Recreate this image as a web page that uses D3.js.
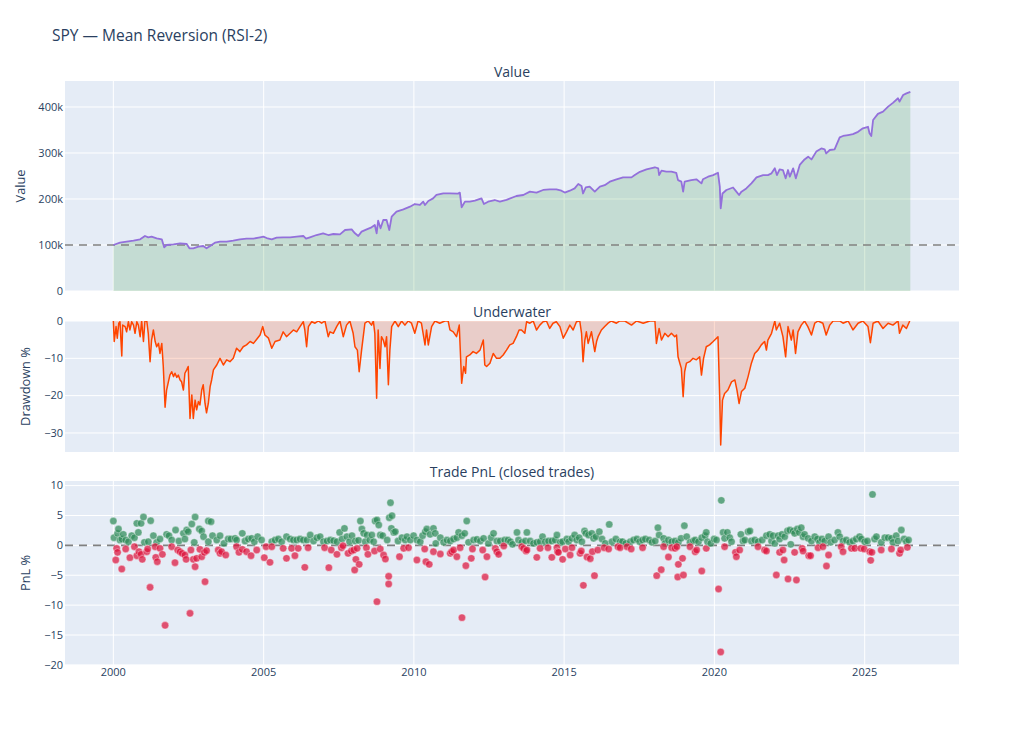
<!DOCTYPE html>
<html><head><meta charset="utf-8">
<script src="https://cdn.jsdelivr.net/npm/d3@7"></script>
<style>
html,body{margin:0;padding:0;background:#fff;}
svg{display:block;font-family:"Open Sans",verdana,arial,sans-serif;}
</style></head>
<body><svg id="c" width="1024" height="730"></svg>
<script>
// ---------------- DATA ----------------
const chartTitle = "SPY — Mean Reversion (RSI-2)";
const panelTitles = ["Value", "Underwater", "Trade PnL (closed trades)"];
const axisTitles = ["Value", "Drawdown %", "PnL %"];
const xTickYears = [2000, 2005, 2010, 2015, 2020, 2025];
const valueTicks = [0, 100000, 200000, 300000, 400000];
const ddTicks = [0, -10, -20, -30];
const pnlTicks = [10, 5, 0, -5, -10, -15, -20];
const startCapital = 100000;

// equity curve: [decimal year, value in thousands]
const equity = [
[2000.00,100],[2000.22,105.1],[2000.44,107.2],[2000.67,109.4],[2000.89,112.3],[2001.05,119.6],[2001.16,116.7],
[2001.27,118.1],[2001.44,114.5],[2001.61,112.3],[2001.69,94.9],[2001.77,100],[2002.00,101.4],[2002.22,103.6],
[2002.44,102.2],[2002.53,92.8],[2002.66,92.8],[2002.83,96.4],[2002.99,97.8],[2003.10,92.8],[2003.22,97.8],
[2003.38,105.1],[2003.55,107.2],[2003.77,107.2],[2003.99,109.4],[2004.21,112.3],[2004.43,113.8],[2004.66,113.8],
[2004.88,116.7],[2004.99,118.1],[2005.10,115.2],[2005.27,112.3],[2005.43,116],[2005.65,116.7],[2005.88,116.7],
[2006.10,118.1],[2006.32,119.6],[2006.41,113.8],[2006.54,116.7],[2006.76,121.7],[2006.98,125.4],[2007.15,121.7],
[2007.32,123.9],[2007.54,123.2],[2007.71,132.6],[2007.93,134.1],[2008.04,125.4],[2008.15,119.6],[2008.26,129],
[2008.43,134.1],[2008.59,138.4],[2008.70,143.5],[2008.76,125.4],[2008.81,152.9],[2008.89,136.2],[2008.98,154.3],
[2009.09,154.3],[2009.18,132.6],[2009.26,161.6],[2009.42,172.5],[2009.65,177.5],[2009.87,183.3],[2010.03,189.1],
[2010.20,187],[2010.31,194.2],[2010.37,187],[2010.48,195.7],[2010.64,201.4],[2010.75,208.7],[2010.98,212.3],
[2011.20,212.3],[2011.47,211.6],[2011.53,213.8],[2011.59,181.9],[2011.70,194.2],[2011.86,194.2],[2012.03,196.4],
[2012.25,201.4],[2012.33,189.1],[2012.47,194.2],[2012.69,197.8],[2012.86,194.2],[2013.08,198],[2013.41,206.5],
[2013.64,208.7],[2013.86,216],[2014.08,214],[2014.30,219.6],[2014.52,221],[2014.74,221],[2014.91,218],[2015.02,214],
[2015.19,218],[2015.35,223],[2015.47,232.6],[2015.58,228],[2015.63,212],[2015.72,225],[2015.85,227],[2016.02,216],
[2016.19,227],[2016.35,230],[2016.52,237.7],[2016.74,242.8],[2016.96,247],[2017.24,247],[2017.35,252],[2017.52,259],
[2017.74,264.5],[2018.02,269],[2018.13,266.7],[2018.16,252],[2018.24,261.6],[2018.40,259.4],[2018.57,259.4],
[2018.73,257],[2018.79,241],[2018.90,237.7],[2018.96,216],[2019.01,237.7],[2019.23,241],[2019.40,242.8],[2019.57,234],
[2019.62,242.8],[2019.79,248.5],[2019.96,252],[2020.12,257],[2020.18,226.8],[2020.21,179.7],[2020.27,212],
[2020.40,219.6],[2020.62,225],[2020.73,216],[2020.82,208.7],[2020.90,216],[2021.06,223],[2021.23,234],[2021.40,247],
[2021.62,252],[2021.78,252],[2021.90,255.8],[2022.01,266.7],[2022.08,252],[2022.17,264.5],[2022.28,263],[2022.37,245],
[2022.45,263],[2022.51,248.5],[2022.62,266.7],[2022.71,245],[2022.84,274],[2023.00,286],[2023.12,292],[2023.23,286],
[2023.39,303],[2023.56,310],[2023.67,308],[2023.72,299],[2023.84,306.5],[2024.00,308],[2024.17,334],[2024.28,337],
[2024.45,339],[2024.61,341],[2024.78,346],[2024.94,353.6],[2025.11,357],[2025.16,343],[2025.22,337],[2025.28,371.7],
[2025.44,385],[2025.61,390],[2025.78,400.7],[2025.94,409],[2026.11,419],[2026.16,411.6],[2026.28,426],[2026.39,429.7],
[2026.52,433]
];

// drawdown: [decimal year, drawdown %]
const drawdown = [
[2000.00,0],[2000.03,-5.5],[2000.09,-1.5],[2000.13,-4.6],[2000.18,-0.6],[2000.22,-0.2],[2000.28,-9.4],[2000.31,-1.1],
[2000.39,-1.5],[2000.44,-2.9],[2000.50,-0.2],[2000.55,-2.4],[2000.61,-0.2],[2000.67,-1.1],[2000.72,-3.3],[2000.78,-0.2],
[2000.83,-1.1],[2000.89,-4.2],[2000.94,0],[2001.00,-5.5],[2001.05,0],[2001.11,0],[2001.16,-3.3],[2001.22,-10.9],
[2001.27,-5.1],[2001.33,-2.4],[2001.39,-5.5],[2001.44,-6.9],[2001.50,-6.0],[2001.55,-8.7],[2001.61,-6.0],[2001.66,-12.2],
[2001.72,-23.1],[2001.77,-18.5],[2001.83,-16.3],[2001.88,-14.5],[2001.94,-13.6],[2002.00,-14.9],[2002.05,-14.0],
[2002.11,-15.1],[2002.16,-14.5],[2002.22,-15.8],[2002.27,-16.3],[2002.33,-18.5],[2002.38,-14.0],[2002.44,-13.1],
[2002.49,-12.2],[2002.55,-26.1],[2002.61,-19.8],[2002.66,-26.1],[2002.72,-21.2],[2002.77,-23.8],[2002.83,-21.6],
[2002.88,-22.5],[2002.94,-18.5],[2002.99,-17.1],[2003.05,-22.1],[2003.10,-24.6],[2003.16,-22.1],[2003.22,-17.6],
[2003.27,-15.8],[2003.33,-13.1],[2003.44,-11.8],[2003.55,-10.0],[2003.66,-11.8],[2003.77,-10.4],[2003.88,-10.9],
[2003.99,-10.0],[2004.10,-7.3],[2004.21,-8.2],[2004.32,-6.9],[2004.43,-6.4],[2004.55,-5.5],[2004.66,-6.0],[2004.77,-4.9],
[2004.88,-3.75],[2004.97,-1.5],[2005.04,-3.75],[2005.16,-4.6],[2005.27,-7.3],[2005.38,-5.5],[2005.54,-5.1],[2005.65,-2.9],
[2005.76,-4.2],[2005.88,-3.3],[2005.99,-2.4],[2006.10,-2.9],[2006.21,-1.5],[2006.32,-0.2],[2006.37,-2.4],[2006.43,-6.9],
[2006.49,-1.5],[2006.60,-0.2],[2006.71,-0.6],[2006.82,0],[2006.93,-0.6],[2007.04,0],[2007.15,-4.2],[2007.21,-2.9],
[2007.32,-3.3],[2007.43,-1.5],[2007.54,0],[2007.65,-4.2],[2007.76,-1.1],[2007.87,0],[2007.98,-3.3],[2008.04,-6.9],
[2008.12,-7.8],[2008.18,-13.6],[2008.26,-7.8],[2008.37,-0.6],[2008.48,0],[2008.59,-1.1],[2008.65,0],[2008.70,-3.3],
[2008.76,-20.7],[2008.81,-2.4],[2008.87,-12.7],[2008.92,-4.2],[2008.98,-5.1],[2009.04,-6.9],[2009.09,-4.2],[2009.15,-17.1],
[2009.20,-7.8],[2009.26,-1.5],[2009.37,0],[2009.48,-1.5],[2009.59,0],[2009.70,-1.1],[2009.81,0],[2009.92,-0.6],
[2010.03,-3.3],[2010.14,0],[2010.25,-0.6],[2010.37,-6.4],[2010.42,-2.4],[2010.48,-6.4],[2010.59,-1.5],[2010.70,0],
[2010.86,-0.6],[2011.03,0],[2011.14,0],[2011.20,-2.4],[2011.31,-2.9],[2011.42,-4.2],[2011.51,-1.1],[2011.59,-16.7],
[2011.66,-12.2],[2011.72,-14.0],[2011.75,-9.6],[2011.86,-9.1],[2011.97,-8.2],[2012.08,-8.7],[2012.20,-7.8],[2012.31,-5.1],
[2012.36,-11.8],[2012.42,-12.2],[2012.53,-11.3],[2012.64,-8.7],[2012.75,-10.0],[2012.86,-10.0],[2012.97,-9.1],
[2013.08,-7.8],[2013.19,-6.4],[2013.30,-6.0],[2013.41,-4.2],[2013.50,-2.4],[2013.58,-2.4],[2013.69,-3.3],[2013.75,-0.2],
[2013.86,-0.6],[2013.97,0],[2014.08,-2.4],[2014.19,-1.1],[2014.30,-0.2],[2014.41,0],[2014.52,-2.0],[2014.63,-0.6],
[2014.74,-0.2],[2014.86,-1.5],[2014.97,-4.6],[2015.08,-2.9],[2015.19,-1.1],[2015.30,-2.4],[2015.41,-0.2],[2015.52,0],
[2015.58,-3.3],[2015.63,-10.9],[2015.69,-5.1],[2015.74,-2.9],[2015.80,-6.0],[2015.91,-2.9],[2016.02,-8.2],[2016.08,-5.5],
[2016.13,-4.2],[2016.24,-2.4],[2016.35,-1.5],[2016.46,-0.6],[2016.57,0],[2016.74,-0.6],[2016.85,0],[2017.02,0],
[2017.24,-1.1],[2017.41,0],[2017.63,-0.6],[2017.85,0],[2018.02,0],[2018.07,-6.0],[2018.16,-2.0],[2018.24,-5.1],
[2018.35,-3.3],[2018.46,-4.2],[2018.57,-3.3],[2018.68,-4.2],[2018.74,-3.75],[2018.79,-9.6],[2018.85,-11.3],
[2018.90,-12.7],[2018.96,-20.3],[2019.01,-13.6],[2019.07,-11.3],[2019.18,-10.9],[2019.29,-10.0],[2019.40,-10.4],
[2019.51,-9.6],[2019.57,-14.5],[2019.64,-10.0],[2019.73,-6.9],[2019.84,-6.4],[2019.96,-5.5],[2020.07,-4.6],
[2020.12,-4.2],[2020.18,-21.2],[2020.21,-33.2],[2020.27,-21.2],[2020.34,-19.4],[2020.45,-18.5],[2020.57,-16.3],
[2020.68,-15.8],[2020.75,-18.5],[2020.82,-22.1],[2020.90,-18.9],[2021.01,-18.0],[2021.12,-14.9],[2021.23,-11.3],
[2021.34,-8.7],[2021.45,-7.8],[2021.56,-6.4],[2021.67,-5.5],[2021.73,-7.8],[2021.78,-5.1],[2021.90,-3.3],[2022.01,0],
[2022.06,-2.4],[2022.17,-0.6],[2022.28,-4.2],[2022.37,-9.6],[2022.45,-1.5],[2022.56,-5.1],[2022.62,-2.4],[2022.70,-8.7],
[2022.78,-2.9],[2022.89,-1.1],[2023.00,0],[2023.11,-1.5],[2023.23,-3.75],[2023.34,-0.6],[2023.45,0],[2023.61,-0.6],
[2023.72,-3.75],[2023.84,-1.1],[2023.95,0],[2024.17,0],[2024.28,-0.6],[2024.45,0],[2024.61,-2.4],[2024.78,-0.6],
[2024.94,0],[2025.11,-1.5],[2025.19,-5.8],[2025.28,-0.6],[2025.44,0],[2025.61,-2.0],[2025.78,-0.6],[2025.94,-1.1],
[2026.11,0],[2026.16,-3.3],[2026.27,-1.1],[2026.39,-2.0],[2026.50,0]
];

// closed trades: [exit date as decimal year, PnL %]
const trades = [
[2000.00,4.07],[2000.02,1.28],[2000.14,2.01],[2000.17,2.73],[2000.22,0.89],[2000.28,1.06],[2000.33,1.84],[2000.41,0.89],
[2000.50,0.61],[2000.61,1.62],[2000.70,1.28],[2000.78,3.68],[2000.83,2.17],[2000.92,3.68],[2001.00,4.74],[2001.03,0.5],
[2001.16,0.61],[2001.24,4.12],[2001.33,1.62],[2001.44,0.5],[2001.55,1.06],[2001.77,1.84],[2001.85,1.62],[2001.94,0.89],
[2002.07,2.56],[2002.18,0.72],[2002.33,2.01],[2002.38,1.06],[2002.44,2.56],[2002.49,2.29],[2002.61,3.57],[2002.69,0.5],
[2002.72,4.74],[2002.86,2.73],[2002.94,2.4],[2003.00,1.45],[2003.16,0.61],[2003.16,4.07],[2003.25,3.96],[2003.30,1.62],
[2003.44,0.89],[2003.55,1.62],[2003.68,0.33],[2003.82,1.06],[2003.91,1.06],[2004.05,1.17],[2004.10,0.89],[2004.29,2.01],
[2004.38,0.72],[2004.49,1.06],[2004.60,1.17],[2004.69,0.61],[2004.80,1.45],[2004.93,0.89],[2005.27,0.61],[2005.38,0.89],
[2005.49,1.06],[2005.60,0.61],[2005.76,1.45],[2005.88,1.06],[2005.99,0.89],[2006.10,0.89],[2006.21,1.06],[2006.32,0.89],
[2000.08,-2.45],[2000.11,-0.5],[2000.14,-1.17],[2000.28,-3.96],[2000.41,-0.61],[2000.55,-2.06],[2000.70,-0.22],
[2000.78,-1.73],[2000.85,-1.06],[2000.92,-1.5],[2000.96,-2.34],[2001.11,-1.06],[2001.14,-0.61],[2001.22,-7.02],
[2001.39,-0.22],[2001.41,-2.01],[2001.46,-2.73],[2001.55,-0.5],[2001.63,-1.5],[2001.72,-13.38],[2001.94,-0.22],
[2002.05,-2.9],[2002.14,-0.78],[2002.22,-1.06],[2002.29,-1.34],[2002.38,-1.62],[2002.42,-2.34],[2002.55,-11.37],
[2002.58,-0.78],[2002.66,-2.34],[2002.72,-3.57],[2002.77,-2.17],[2002.88,-0.67],[2002.94,-1.9],[2003.03,-1.17],
[2003.05,-6.08],[2003.10,-0.89],[2003.49,-0.78],[2003.55,-1.34],[2003.60,-1.06],[2003.74,-1.62],[2004.10,-0.22],
[2004.18,-1.17],[2004.29,-0.67],[2004.43,-1.06],[2004.58,-1.73],[2004.77,-0.78],[2005.02,-2.06],[2005.08,-0.22],
[2005.21,-2.84],[2005.27,-0.22],[2005.65,-0.5],[2005.76,-2.17],[2005.93,-0.5],[2006.04,-1.73],[2006.15,-0.5],[2006.37,-3.68],
[2006.44,0.89],[2006.55,1.73],[2006.66,0.72],[2006.77,1.28],[2006.88,1.45],[2006.99,0.61],[2007.11,0.72],[2007.22,0.89],
[2007.33,0.78],[2007.44,0.61],[2007.53,2.17],[2007.61,1.06],[2007.69,2.84],[2007.77,1.45],[2007.86,0.61],[2007.94,1.62],
[2008.05,0.72],[2008.16,0.84],[2008.22,4.07],[2008.27,2.73],[2008.33,2.01],[2008.38,0.61],[2008.44,1.73],[2008.53,0.89],
[2008.60,1.73],[2008.66,0.61],[2008.71,4.07],[2008.77,4.24],[2008.83,3.4],[2008.88,1.73],[2008.96,1.62],[2009.11,0.89],
[2009.18,4.63],[2009.22,7.13],[2009.27,4.96],[2009.25,2.84],[2009.33,2.17],[2009.38,2.29],[2009.47,0.72],[2009.60,1.28],
[2009.71,0.89],[2009.77,1.45],[2009.88,0.89],[2009.99,1.62],[2010.10,0.89],[2010.21,0.61],[2010.29,1.62],[2010.38,2.29],
[2010.43,2.73],[2010.54,1.84],[2010.65,2.84],[2010.71,2.01],[2010.73,0.33],[2010.88,1.28],[2010.99,0.5],[2011.10,0.89],
[2011.21,0.72],[2011.32,1.06],[2011.43,1.28],[2011.49,2.17],[2011.60,1.62],[2011.69,2.01],[2011.76,4.07],[2011.82,0.5],
[2011.99,0.89],[2012.10,1.0],[2012.21,0.72],[2012.32,1.17],[2012.48,0.33],[2012.57,1.28],[2012.65,2.01],[2012.76,0.72],
[2012.87,0.72],[2013.02,0.89],
[2006.48,-0.39],[2007.03,-0.39],[2007.17,-3.73],[2007.25,-0.78],[2007.44,-1.5],[2007.59,-0.39],[2007.64,-0.06],
[2007.81,-1.34],[2007.92,-0.95],[2008.00,-0.78],[2008.03,-4.12],[2008.07,-2.34],[2008.11,-0.5],[2008.18,-3.18],
[2008.42,-0.39],[2008.47,-1.5],[2008.69,-0.95],[2008.77,-9.42],[2008.88,-0.61],[2008.99,-1.62],[2009.05,-2.29],
[2009.16,-5.18],[2009.16,-6.47],[2009.52,-1.9],[2009.66,-0.5],[2009.82,-0.39],[2010.10,-2.45],[2010.36,-0.61],
[2010.40,-2.73],[2010.51,-3.18],[2010.65,-1.06],[2010.88,-1.45],[2011.21,-1.34],[2011.26,-1.06],[2011.32,-0.78],
[2011.43,-1.9],[2011.54,-0.39],[2011.60,-12.1],[2011.73,-3.4],[2011.91,-2.17],[2011.95,-0.61],[2012.29,-0.78],
[2012.37,-5.3],[2012.43,-1.9],[2012.71,-0.5],[2012.76,-1.06],[2012.82,-1.5],[2012.99,-0.1],
[2013.13,0.89],[2013.21,0.61],[2013.28,0.17],[2013.43,2.17],[2013.48,0.89],[2013.59,0.5],[2013.71,0.72],[2013.76,2.17],
[2013.87,0.72],[2013.98,0.33],[2014.09,0.5],[2014.20,0.61],[2014.28,1.45],[2014.37,0.61],[2014.48,0.72],[2014.59,0.72],
[2014.70,0.89],[2014.76,1.73],[2014.87,0.5],[2014.95,0.61],[2015.09,1.06],[2015.15,0.61],[2015.26,1.17],[2015.35,1.73],
[2015.42,0.89],[2015.50,1.28],[2015.59,0.61],[2015.68,2.4],[2015.72,2.01],[2015.81,1.73],[2015.92,2.01],[2015.98,1.17],
[2016.06,1.45],[2016.17,2.29],[2016.26,1.06],[2016.37,0.33],[2016.50,3.51],[2016.59,0.61],[2016.72,1.06],[2016.86,0.61],
[2016.94,0.61],[2017.05,0.33],[2017.20,0.61],[2017.31,0.89],[2017.42,1.06],[2017.51,0.61],[2017.61,0.89],[2017.70,1.06],
[2017.83,0.89],[2017.92,0.5],[2018.03,0.72],[2018.12,2.95],[2018.16,1.73],[2018.31,1.17],[2018.36,0.33],[2018.47,0.89],
[2018.58,0.61],[2018.69,0.72],[2018.80,0.5],[2018.89,1.17],[2019.00,3.29],[2019.08,1.45],[2019.19,0.5],[2019.30,0.72],
[2019.36,0.89],[2019.47,0.61],[2019.58,1.28],[2019.69,1.62],
[2013.59,-0.22],[2013.65,-0.5],[2013.73,-0.95],[2013.76,-0.78],[2014.09,-2.01],[2014.20,-0.5],[2014.46,-0.39],
[2014.59,-2.01],[2014.76,-0.39],[2014.78,-1.06],[2014.81,-1.17],[2014.95,-2.34],[2015.04,-0.61],[2015.20,-1.62],
[2015.26,-0.39],[2015.53,-1.34],[2015.57,-0.95],[2015.64,-6.69],[2015.76,-1.95],[2015.87,-2.23],[2015.94,-1.06],
[2016.01,-5.07],[2016.12,-0.78],[2016.33,-0.39],[2016.48,-0.61],[2016.79,-0.22],[2016.86,-0.39],[2017.09,-0.22],
[2017.23,-0.61],[2017.61,-0.39],[2018.08,-5.07],[2018.23,-4.07],[2018.31,-0.22],[2018.47,-1.95],[2018.58,-0.39],
[2018.69,-0.5],[2018.75,-0.22],[2018.78,-5.3],[2018.80,-3.18],[2018.94,-2.17],[2018.97,-4.96],[2019.19,-0.22],
[2019.36,-1.06],[2019.41,-0.78],[2019.58,-4.29],[2019.73,-0.5],
[2019.73,2.17],[2019.77,0.61],[2019.88,0.33],[2019.99,1.06],[2020.07,0.89],[2020.23,7.53],[2020.29,2.17],[2020.34,1.17],
[2020.43,2.17],[2020.51,1.28],[2020.57,0.61],[2020.88,1.84],[2020.95,0.72],[2021.01,0.89],[2021.12,2.29],[2021.18,2.4],
[2021.23,0.72],[2021.34,0.89],[2021.45,0.61],[2021.59,0.89],[2021.73,1.62],[2021.84,1.84],[2021.90,0.72],[2021.95,1.62],
[2022.01,0.33],[2022.12,1.62],[2022.17,1.06],[2022.25,1.84],[2022.34,1.45],[2022.43,2.4],[2022.51,2.56],[2022.54,0.17],
[2022.62,2.4],[2022.67,2.01],[2022.76,2.73],[2022.82,2.17],[2022.89,2.95],[2022.95,1.45],[2023.00,1.84],[2023.12,1.17],
[2023.23,0.72],[2023.34,1.45],[2023.43,1.06],[2023.50,0.5],[2023.58,1.06],[2023.67,0.72],[2023.80,1.45],[2023.87,0.5],
[2024.00,0.89],[2024.11,2.17],[2024.17,1.45],[2024.28,0.72],[2024.39,0.89],[2024.50,0.5],[2024.61,0.72],[2024.72,1.06],
[2024.83,1.45],[2024.89,1.06],[2025.00,0.61],[2025.09,0.72],[2025.26,8.53],[2025.33,1.06],[2025.39,1.45],[2025.55,0.5],
[2025.67,1.28],[2025.78,1.28],[2025.89,1.17],[2025.94,0.5],[2026.05,1.62],[2026.11,0.72],[2026.22,2.56],[2026.31,1.06],
[2026.39,0.61],[2026.46,0.89],
[2020.14,-7.3],[2020.21,-17.84],[2020.34,-0.22],[2020.70,-1.17],[2020.73,-1.9],[2020.84,-0.78],[2021.45,-0.22],
[2021.67,-0.78],[2021.73,-0.95],[2022.06,-4.96],[2022.17,-1.17],[2022.28,-0.78],[2022.32,-2.45],[2022.45,-5.63],
[2022.67,-1.17],[2022.73,-5.8],[2022.92,-0.5],[2022.95,-0.95],[2023.14,-1.73],[2023.20,-1.73],[2023.45,-0.39],
[2023.61,-0.22],[2023.73,-3.46],[2023.80,-1.62],[2024.22,-0.22],[2024.28,-1.06],[2024.56,-0.5],[2024.67,-0.5],
[2024.87,-0.5],[2024.98,-0.61],[2025.17,-1.06],[2025.20,-2.51],[2025.24,-1.17],[2025.55,-0.78],[2025.89,-0.61],
[2026.16,-1.34],[2026.20,-0.78],[2026.42,-0.33]
];

// ---------------- DRAWING ----------------
function toDate(y){
  const yr=Math.floor(y), a=Date.UTC(yr,0,1), b=Date.UTC(yr+1,0,1);
  return new Date(a+(y-yr)*(b-a));
}
const svg=d3.select("#c");
const L=65, R=959;
const textCol="#2a3f5f", bg="#E5ECF6";
const x=d3.scaleUtc().domain([toDate(1998.39),toDate(2028.14)]).range([L,R]);
const xTicks=xTickYears.map(y=>toDate(y));

const panels=[
  {top:81,bottom:291,y:d3.scaleLinear().domain([0,456500]).range([291,81]),ticks:valueTicks,fmt:d3.format("~s"),titleBase:77,axX:25},
  {top:321,bottom:452,y:d3.scaleLinear().domain([-35.1,0]).range([452,321]),ticks:ddTicks,fmt:d3.format("d"),titleBase:316.5,axX:29.5},
  {top:481,bottom:665,y:d3.scaleLinear().domain([-20.02,10.77]).range([665,481]),ticks:pnlTicks,fmt:d3.format("d"),titleBase:476.5,axX:29.5}
];

svg.append("text").attr("x",52).attr("y",41).attr("fill",textCol)
  .style("font-size","15.5px").text(chartTitle);

const defs=svg.append("defs");
panels.forEach((p,i)=>{
  defs.append("clipPath").attr("id","clip"+i).append("rect")
    .attr("x",L).attr("y",p.top).attr("width",R-L).attr("height",p.bottom-p.top);
  svg.append("rect").attr("x",L).attr("y",p.top).attr("width",R-L).attr("height",p.bottom-p.top).attr("fill",bg);
  const g=svg.append("g");
  // grid
  g.selectAll("line.gx").data(xTicks).enter().append("line")
    .attr("x1",d=>x(d)).attr("x2",d=>x(d)).attr("y1",p.top).attr("y2",p.bottom)
    .attr("stroke","#fff").attr("stroke-width",1);
  g.selectAll("line.gy").data(p.ticks).enter().append("line")
    .attr("x1",L).attr("x2",R).attr("y1",d=>p.y(d)).attr("y2",d=>p.y(d))
    .attr("stroke","#fff").attr("stroke-width",1);
  // y tick labels
  g.selectAll("text.yt").data(p.ticks).enter().append("text")
    .attr("x",L-2).attr("y",d=>p.y(d)).attr("dy","0.35em").attr("text-anchor","end")
    .attr("fill",textCol).style("font-size","11px").text(d=>p.fmt(d));
  // panel title
  svg.append("text").attr("x",(L+R)/2).attr("y",p.titleBase).attr("text-anchor","middle")
    .attr("fill",textCol).style("font-size","14px").text(panelTitles[i]);
  // axis title
  svg.append("text").attr("transform",`translate(${p.axX},${(p.top+p.bottom)/2}) rotate(-90)`)
    .attr("text-anchor","middle").attr("fill",textCol).style("font-size","12.8px").text(axisTitles[i]);
});

// x tick labels (bottom)
svg.selectAll("text.xt").data(xTicks).enter().append("text")
  .attr("x",d=>x(d)).attr("y",676).attr("text-anchor","middle")
  .attr("fill",textCol).style("font-size","11px").text(d=>d3.utcFormat("%Y")(d));

// Panel 1: equity
const p1=panels[0];
const g1=svg.append("g").attr("clip-path","url(#clip0)");
g1.append("path").datum(equity)
  .attr("d",d3.area().x(d=>x(toDate(d[0]))).y0(p1.y(0)).y1(d=>p1.y(d[1]*1000)))
  .attr("fill","rgba(0,128,0,0.14)");
g1.append("line").attr("x1",L).attr("x2",R).attr("y1",p1.y(startCapital)).attr("y2",p1.y(startCapital))
  .attr("stroke","#808080").attr("stroke-width",1.6).attr("stroke-dasharray","8,6");
g1.append("path").datum(equity)
  .attr("d",d3.line().x(d=>x(toDate(d[0]))).y(d=>p1.y(d[1]*1000)))
  .attr("fill","none").attr("stroke","#9370DB").attr("stroke-width",1.8).attr("stroke-linejoin","round");

// Panel 2: drawdown
const p2=panels[1];
const g2=svg.append("g").attr("clip-path","url(#clip1)");
g2.append("path").datum(drawdown)
  .attr("d",d3.area().x(d=>x(toDate(d[0]))).y0(p2.y(0)).y1(d=>p2.y(d[1])))
  .attr("fill","rgba(255,69,0,0.18)");
g2.append("path").datum(drawdown)
  .attr("d",d3.line().x(d=>x(toDate(d[0]))).y(d=>p2.y(d[1])))
  .attr("fill","none").attr("stroke","#FF4500").attr("stroke-width",1.5).attr("stroke-linejoin","round");

// Panel 3: trades
const p3=panels[2];
const g3=svg.append("g").attr("clip-path","url(#clip2)");
g3.append("line").attr("x1",L).attr("x2",R).attr("y1",p3.y(0)).attr("y2",p3.y(0))
  .attr("stroke","#808080").attr("stroke-width",1.6).attr("stroke-dasharray","8,6");
g3.selectAll("circle").data(trades).enter().append("circle")
  .attr("cx",d=>x(toDate(d[0]))).attr("cy",d=>p3.y(d[1])).attr("r",3.7)
  .attr("fill",d=>d[1]>=0?"#2E8B57":"#DC143C").attr("fill-opacity",0.72)
  .attr("stroke","#ffffff").attr("stroke-opacity",0.6).attr("stroke-width",0.6);
</script></body></html>
